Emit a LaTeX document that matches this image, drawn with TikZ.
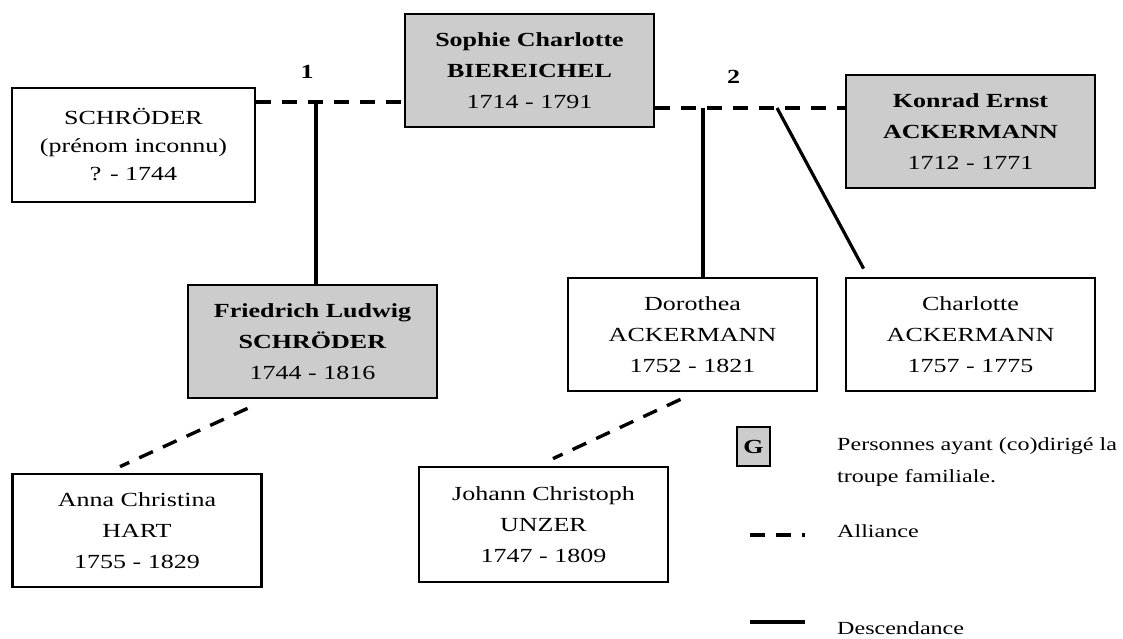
\documentclass[tikz,border=0pt]{standalone}
\usepackage{fontspec}
\setmainfont{Liberation Serif}[FakeStretch=1.3]
\usetikzlibrary{positioning,calc}
\definecolor{leadgray}{gray}{0.8}

\begin{document}
\begin{tikzpicture}[x=1pt,y=-1pt]
  \tikzstyle{person}=[draw,line width=2.8pt,minimum width=249pt,minimum height=113pt,align=center,inner sep=0pt,font=\fontsize{20}{31}\selectfont]
  \tikzstyle{lead}=[fill=leadgray]
  \tikzstyle{alliance}=[line width=3.4pt,dash pattern=on 15pt off 11pt]
  \tikzstyle{descent}=[line width=3.2pt]
  \tikzstyle{num}=[font=\bfseries\fontsize{20}{24}\selectfont,inner sep=0pt]
  \tikzstyle{legend}=[anchor=west,align=left,inner sep=0pt,font=\fontsize{18.5}{32}\selectfont]
  \def\nm#1{\textbf{#1}}

  \useasboundingbox (0,0) rectangle (1123,639);

  \node [person,minimum width=243pt,minimum height=114pt,font=\fontsize{20}{28}\selectfont] (schroeder) at (133.5,145) {SCHRÖDER\\(prénom inconnu)\\? - 1744} ;
  \node [person,lead] (sophie) at (529.5,70.5) {\nm{Sophie Charlotte}\\\nm{BIEREICHEL}\\1714 - 1791} ;
  \node [person,lead] (konrad) at (970.5,131.5) {\nm{Konrad Ernst}\\\nm{ACKERMANN}\\1712 - 1771} ;
  \node [person,lead] (friedrich) at (312.5,341.5) {\nm{Friedrich Ludwig}\\\nm{SCHRÖDER}\\1744 - 1816} ;
  \node [person] (dorothea) at (692.5,334.5) {Dorothea\\ACKERMANN\\1752 - 1821} ;
  \node [person] (charlotte) at (970.5,334.5) {Charlotte\\ACKERMANN\\1757 - 1775} ;
  \node [person] (anna) at (137,530.5) {Anna Christina\\HART\\1755 - 1829} ;
  \node [person,minimum height=115pt] (unzer) at (543.5,524.5) {Johann Christoph\\UNZER\\1747 - 1809} ;

  % first marriage
  \coordinate (mar1) at (316,102) ;
  \node [num] (one) at (307,71.5) {1} ;
  \draw [alliance] (mar1 -| schroeder.east) -- (mar1 -| sophie.west) ;
  \draw [descent] (mar1) -- (mar1 |- friedrich.north) ;

  % second marriage
  \coordinate (mar2) at (703,108) ;
  \coordinate (kid2) at (777,108) ;
  \node [num] (two) at (733.5,76.5) {2} ;
  \draw [alliance] (mar2 -| sophie.east) -- (mar2 -| konrad.west) ;
  \draw [descent] (mar2) -- (mar2 |- dorothea.north) ;
  \draw [descent] (kid2) -- ($(charlotte.north west)+(19,-8)$) ;

  \draw [alliance] ($(friedrich.south)+(-65,9)$) -- ($(anna.north)+(-17,-6)$) ;
  \draw [alliance] ($(dorothea.south)+(-12,7)$) -- ($(unzer.north)+(9.5,-7)$) ;

  % legend
  \node [draw,lead,line width=2.4pt,minimum width=33pt,minimum height=39pt,inner sep=0pt,font=\bfseries\fontsize{20}{24}\selectfont] (gkey) at (753.5,446.5) {G} ;
  \node [legend] (gtext) at (837,462) {Personnes ayant (co)dirigé la\\troupe familiale.} ;
  \coordinate (allA) at (750,535) ;
  \coordinate (allB) at (805,535) ;
  \draw [alliance] (allA) -- (allB) ;
  \node [legend] (alltext) at (837,531) {Alliance} ;
  \coordinate (desA) at (750,622) ;
  \coordinate (desB) at (805,622) ;
  \draw [descent] (desA) -- (desB) ;
  \node [legend] (destext) at (837,628) {Descendance} ;
\end{tikzpicture}
\end{document}
